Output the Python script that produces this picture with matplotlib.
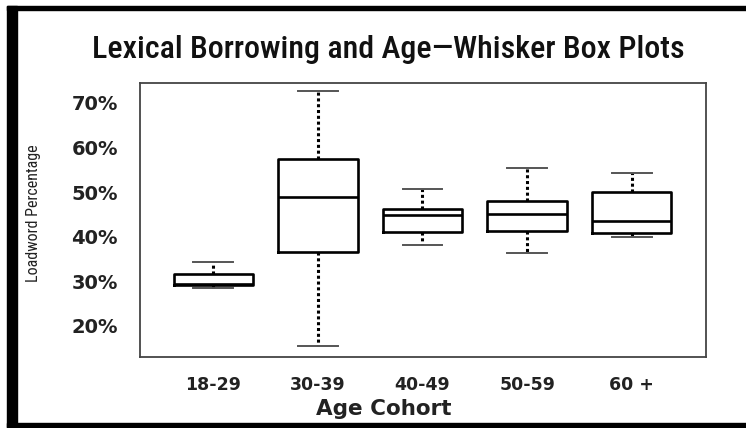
import matplotlib
matplotlib.use("Agg")
import matplotlib.pyplot as plt
from matplotlib.patches import Rectangle

# Loanword percentage by age cohort
cohorts = ["18-29", "30-39", "40-49", "50-59", "60 +"]
whisker_low = [28.5, 15.4, 38.2, 36.3, 40.0]
quartile_1 = [29.2, 36.5, 41.1, 41.2, 40.8]
medians = [29.5, 48.9, 44.9, 45.0, 43.5]
quartile_3 = [31.6, 57.4, 46.2, 48.0, 50.0]
whisker_high = [34.3, 72.7, 50.6, 55.5, 54.4]
ytick_values = [20, 30, 40, 50, 60, 70]

narrow = ["Roboto Condensed", "DejaVu Sans"]

stats = []
for name, lo, q1, med, q3, hi in zip(cohorts, whisker_low, quartile_1, medians, quartile_3, whisker_high):
    stats.append({"label": name, "whislo": lo, "q1": q1, "med": med, "q3": q3, "whishi": hi, "fliers": []})

fig = plt.figure(figsize=(7.46, 4.28), dpi=100)
ax = fig.add_axes([0.1877, 0.1666, 0.7587, 0.6402])

ax.bxp(stats, positions=range(1, len(cohorts) + 1), widths=0.76, capwidths=0.38,
       showfliers=False,
       boxprops=dict(color="black", linewidth=1.9),
       medianprops=dict(color="black", linewidth=1.9),
       whiskerprops=dict(color="black", linewidth=2.2, linestyle=(0, (1, 0.9))),
       capprops=dict(color="#555555", linewidth=1.4))

ax.set_xlim(0.3, 5.71)
ax.set_ylim(13.1, 74.55)
ax.set_yticks(ytick_values)
ax.set_yticklabels([f"{v}%" for v in ytick_values], fontweight="bold", fontsize=14, color="#222222")
ax.tick_params(axis="y", length=0, pad=16)
ax.tick_params(axis="x", length=0, pad=14, labelsize=12.5, labelcolor="#222222")
for lab in ax.get_xticklabels():
    lab.set_fontweight("bold")
for sp in ax.spines.values():
    sp.set_color("#444444")
    sp.set_linewidth(1.3)

ax.set_xlabel("Age Cohort", fontsize=15.5, fontweight="bold", color="#222222")
ax.xaxis.set_label_coords(0.43, -0.155)

fig.text(34 / 746, 1 - 213 / 428, "Loadword Percentage", rotation=90, ha="center", va="center",
         family=narrow, fontsize=11.5, color="#222222")
fig.text(0.5208, 1 - 58.3 / 428, "Lexical Borrowing and Age\u2014Whisker Box Plots",
         ha="center", va="baseline", family=narrow, fontweight="medium", fontsize=23, color="#111111")

# black frame around the picture: thick left bar, top and bottom rules
W, H = 746, 428
fig.add_artist(Rectangle((7 / W, 0), 10 / W, 1 - 6 / H, transform=fig.transFigure, color="black"))
fig.add_artist(Rectangle((7 / W, 1 - 10 / H), 1, 4 / H, transform=fig.transFigure, color="black"))
fig.add_artist(Rectangle((7 / W, 1 - 427 / H), 1, 4 / H, transform=fig.transFigure, color="black"))

fig.savefig("out.png", dpi=100)
